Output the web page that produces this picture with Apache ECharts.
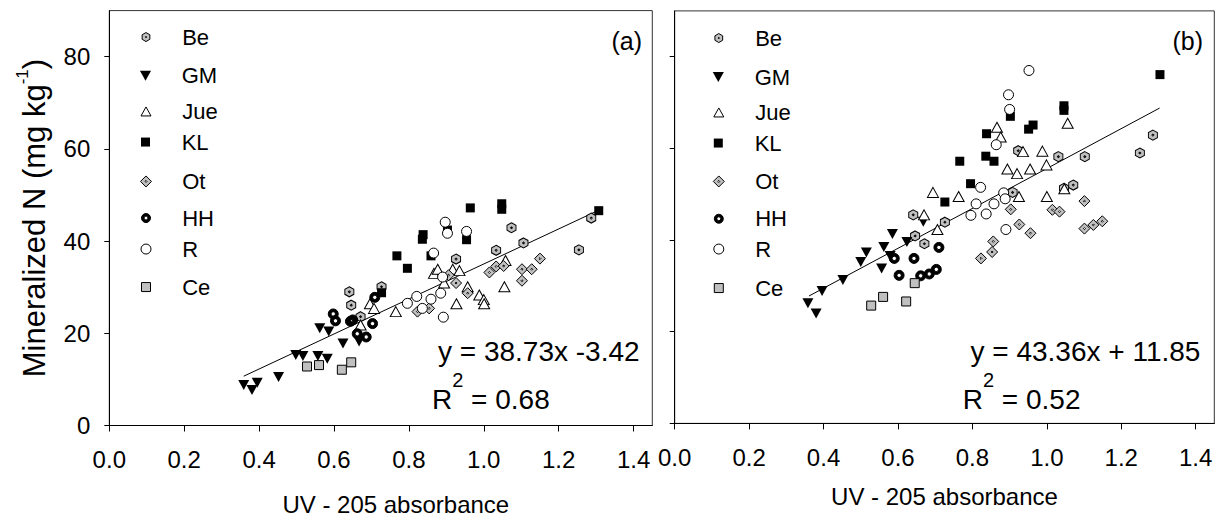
<!DOCTYPE html>
<html><head><meta charset="utf-8">
<script src="https://cdn.jsdelivr.net/npm/echarts@6/dist/echarts.min.js"></script>
<style>html,body{margin:0;padding:0;background:#fff}#c{width:1221px;height:521px}</style>
</head><body><div id="c"></div>
<script>
// ---------- data ----------
const xTicks = [0, 0.2, 0.4, 0.6, 0.8, 1.0, 1.2, 1.4];
const yTicks = [0, 20, 40, 60, 80];
const groups = ['Be', 'GM', 'Jue', 'KL', 'Ot', 'HH', 'R', 'Ce'];

// panel (a)
const aBe  = [[0.641,29.0],[0.646,26.1],[0.671,23.6],[0.727,30.1],[0.926,36.1],[1.033,38.0],[1.074,42.9],[1.106,39.6],[1.254,38.1],[1.287,45.0]];
const aGM  = [[0.359,8.8],[0.381,7.7],[0.395,9.3],[0.452,10.5],[0.498,15.3],[0.517,15.1],[0.557,15.1],[0.582,14.5],[0.562,21.1],[0.586,20.4],[0.624,17.8],[0.667,18.2]];
const aJue = [[0.671,21.8],[0.696,26.4],[0.707,25.4],[0.765,24.7],[0.867,33.0],[0.877,33.9],[0.894,30.9],[0.917,33.9],[0.935,33.6],[0.927,26.4],[0.957,30.1],[0.988,28.3],[1.000,27.3],[1.001,26.4],[1.055,30.1],[1.058,35.8]];
const aKL  = [[0.727,28.8],[0.768,36.8],[0.796,34.1],[0.838,41.4],[0.836,40.4],[0.859,36.8],[0.903,42.4],[0.954,40.3],[0.964,47.2],[1.048,48.1],[1.048,46.9],[1.307,46.6]];
const aOt  = [[0.823,24.7],[0.854,25.4],[0.906,32.6],[0.926,30.9],[0.957,28.7],[1.015,33.2],[1.033,34.5],[1.053,34.6],[1.102,31.4],[1.102,33.9],[1.128,33.9],[1.150,36.2]];
const aHH  = [[0.598,24.2],[0.604,22.7],[0.644,22.6],[0.650,22.9],[0.662,19.9],[0.686,19.2],[0.703,22.1],[0.709,27.8]];
const aR   = [[0.796,26.5],[0.821,28.0],[0.836,25.4],[0.859,27.4],[0.885,28.7],[0.890,32.2],[0.892,23.5],[0.866,37.4],[0.897,44.1],[0.903,41.7],[0.954,42.1]];
const aCe  = [[0.528,12.8],[0.560,13.1],[0.621,12.1],[0.646,13.7]];
const fitA = [[0.359,10.7],[1.307,46.7]];
const eqA = 'y = 38.73x -3.42';
const r2A = '0.68';

// panel (b)
const bBe  = [[0.641,45.5],[0.646,40.9],[0.671,39.2],[0.726,43.9],[0.908,50.4],[0.923,59.5],[1.031,58.2],[1.046,51.3],[1.071,52.0],[1.102,58.2],[1.250,59.0],[1.285,62.9]];
const bGM  = [[0.358,26.2],[0.380,24.0],[0.396,28.9],[0.452,31.3],[0.500,35.2],[0.515,37.3],[0.556,33.8],[0.562,38.5],[0.579,36.5],[0.585,41.3],[0.624,39.6],[0.668,44.0]];
const bJue = [[0.670,45.5],[0.706,42.3],[0.694,50.4],[0.763,49.5],[0.866,64.6],[0.876,62.5],[0.894,55.5],[0.920,54.5],[0.925,49.5],[0.936,59.3],[0.955,55.5],[0.988,59.4],[0.999,56.4],[1.000,49.5],[1.047,51.2],[1.056,65.5]];
const bKL  = [[0.726,48.3],[0.766,57.2],[0.795,52.3],[0.838,63.2],[0.836,58.3],[0.858,57.2],[0.902,67.0],[0.951,64.2],[0.963,65.1],[1.046,68.3],[1.046,69.3],[1.304,76.1]];
const bOt  = [[0.823,36.0],[0.853,37.4],[0.856,39.7],[0.903,46.7],[0.926,43.4],[0.956,41.5],[1.015,46.6],[1.034,46.2],[1.101,48.5],[1.101,42.5],[1.125,43.3],[1.149,44.1]];
const bHH  = [[0.590,36.0],[0.603,32.3],[0.643,36.0],[0.661,32.2],[0.684,32.6],[0.703,33.6],[0.710,38.4]];
const bR   = [[0.796,45.4],[0.810,47.9],[0.822,51.5],[0.837,45.7],[0.858,47.9],[0.884,50.3],[0.888,49.0],[0.890,42.3],[0.864,60.8],[0.900,68.5],[0.897,71.7],[0.952,77.0]];
const bCe  = [[0.528,25.7],[0.560,27.6],[0.622,26.6],[0.645,30.6]];
const fitB = [[0.361,27.8],[1.303,68.8]];
const eqB = 'y = 43.36x + 11.85';
const r2B = '0.52';

// ---------- styles ----------
const FONT = "'Liberation Sans', Arial, Helvetica, sans-serif";
const CIRCLE = 'M50,0A50,50 0 1,1 50,100A50,50 0 1,1 50,0Z';
const SQUARE = 'M0,0L100,0L100,100L0,100Z';
const DOTHOLE = ' M50,41L41,50L50,59L59,50Z';
// aspect = width/height of the path's bounding box (used for legend icon placement)
const SYM = {
  Be:  {path: 'path://M50,0L93,25L93,75L50,100L7,75L7,25Z' + DOTHOLE, size: [9, 10], fill: '#c0c0c0', bw: 1, lh: 9, aspect: 0.86},
  GM:  {path: 'path://M0,0L100,0L50,90Z', size: [11, 10], fill: '#000', bw: 0, lh: 10, aspect: 1.11},
  Jue: {path: 'path://M50,0L100,90L0,90Z', size: [11, 10], fill: '#fff', bw: 1, lh: 9, aspect: 1.11},
  KL:  {path: 'path://' + SQUARE, size: 9, fill: '#000', bw: 0, lh: 9, aspect: 1},
  Ot:  {path: 'path://M50,0L100,50L50,100L0,50Z' + DOTHOLE, size: 11, fill: '#c0c0c0', bw: 1, lh: 11, aspect: 1},
  HH:  {path: 'path://' + CIRCLE + ' M50,28A22,22 0 1,0 50,72A22,22 0 1,0 50,28Z', size: 10, fill: '#000', bw: 1, lh: 9, aspect: 1},
  R:   {path: 'path://' + CIRCLE, size: 10, fill: '#fff', bw: 1, lh: 10, aspect: 1},
  Ce:  {path: 'path://' + SQUARE, size: 9, fill: '#c0c0c0', bw: 1, lh: 9, aspect: 1}
};
const panels = [
  {data: {Be: aBe, GM: aGM, Jue: aJue, KL: aKL, Ot: aOt, HH: aHH, R: aR, Ce: aCe}, fit: fitA, eq: eqA, r2: r2A},
  {data: {Be: bBe, GM: bGM, Jue: bJue, KL: bKL, Ot: bOt, HH: bHH, R: bR, Ce: bCe}, fit: fitB, eq: eqB, r2: r2B}
];

// layout
const grids = [
  {left: 109.3, top: 10.6, width: 543, height: 414.9},
  {left: 674.7, top: 10.9, width: 539.6, height: 412.5}
];
const legendRows = [
  [37.3, 76, 111.7, 142.3, 181.7, 218.3, 249.3, 287.3],
  [38.3, 77.3, 112.7, 143.3, 181.7, 219, 249.3, 288.3]
];
const legendX = [{cx: 145.5, tx: 181.7}, {cx: 718.3, tx: 754.7}];
const LEG_TEXT_HALF = 11.25;
const panelTags = ['(a)', '(b)'];

const series = [];
const legends = [];
const xAxes = [], yAxes = [];
panels.forEach((p, i) => {
  series.push({
    type: 'line', xAxisIndex: i, yAxisIndex: i, data: p.fit, symbol: 'none', silent: true,
    lineStyle: {color: '#000', width: 1}, z: 1
  });
  groups.forEach((g) => {
    const s = SYM[g];
    series.push({
      type: 'scatter', name: g, xAxisIndex: i, yAxisIndex: i, data: p.data[g],
      symbol: s.path, symbolSize: s.size,
      itemStyle: {color: s.fill, borderColor: '#000', borderWidth: s.bw, opacity: 1},
      emphasis: {disabled: true}, z: 3
    });
  });
  groups.forEach((g, k) => {
    const s = SYM[g];
    const cx = legendX[i].cx, tx = legendX[i].tx, cy = legendRows[i][k];
    const W = 2 * (tx - 5 - cx);
    const vw = s.lh * s.aspect;
    legends.push({
      left: cx - vw / 2, top: cy - LEG_TEXT_HALF, padding: 0, itemGap: 0,
      itemWidth: W, itemHeight: s.lh, selectedMode: false, symbolKeepAspect: true,
      data: [{name: g, icon: s.path, itemStyle: {color: s.fill, borderColor: '#000', borderWidth: s.bw}}],
      textStyle: {fontSize: 22, fontFamily: FONT, color: '#000'}
    });
  });
  xAxes.push({
    gridIndex: i, type: 'value', min: 0, max: 1.45,
    axisLine: {show: true, onZero: false, lineStyle: {color: '#000', width: 1}},
    axisTick: {show: true, customValues: xTicks, length: 6, lineStyle: {color: '#000', width: 1}},
    axisLabel: {customValues: xTicks, formatter: (v) => v.toFixed(1), fontSize: 24, fontFamily: FONT, color: '#000', margin: 22},
    splitLine: {show: false},
    name: 'UV - 205 absorbance', nameLocation: 'middle', nameGap: i === 0 ? 67 : 61,
    nameMoveOverlap: false,
    nameTextStyle: {fontSize: 24, fontFamily: FONT, color: '#000', padding: i === 0 ? [0, 0, 0, 30] : 0}
  });
  const ya = {
    gridIndex: i, type: 'value', min: 0, max: 90,
    axisLine: {show: true, onZero: false, lineStyle: {color: '#000', width: 1}},
    axisTick: {show: true, customValues: yTicks, length: 5, lineStyle: {color: '#000', width: 1}},
    axisLabel: {show: i === 0, customValues: yTicks, fontSize: 24, fontFamily: FONT, color: '#000', margin: 19},
    splitLine: {show: false}
  };
  if (i === 0) {
    ya.name = '{m|Mineralized N (mg kg}{s|-1}{m|)}';
    ya.nameLocation = 'middle';
    ya.nameGap = 59;
    ya.nameMoveOverlap = false;
    ya.nameTextStyle = {
      color: '#000',
      rich: {
        m: {fontSize: 31, lineHeight: 36, fontFamily: FONT, color: '#000', verticalAlign: 'bottom'},
        s: {fontSize: 17, lineHeight: 17, fontFamily: FONT, color: '#000', verticalAlign: 'bottom', padding: [0, 0, 19, 0]}
      }
    };
  }
  yAxes.push(ya);
});

const richEq = {
  m: {fontSize: 28, lineHeight: 32, fontFamily: FONT, fill: '#000', verticalAlign: 'bottom'},
  s: {fontSize: 20, lineHeight: 20, fontFamily: FONT, fill: '#000', verticalAlign: 'bottom', padding: [0, 0, 23, 0]}
};
const eqPos = [{ex: 438, rx: 432, tagX: 642}, {ex: 970.5, rx: 962.7, tagX: 1203}];
const graphics = [];
panels.forEach((p, i) => {
  graphics.push({type: 'text', x: eqPos[i].tagX, y: 41, silent: true,
    style: {text: panelTags[i], fontSize: 25, fontFamily: FONT, fill: '#000', align: 'right', textAlign: 'right', verticalAlign: 'middle', textVerticalAlign: 'middle'}});
  graphics.push({type: 'text', x: eqPos[i].ex, y: 351, silent: true,
    style: {text: p.eq, fontSize: 28, fontFamily: FONT, fill: '#000', align: 'left', textAlign: 'left', verticalAlign: 'middle', textVerticalAlign: 'middle'}});
  graphics.push({type: 'text', x: eqPos[i].rx, y: 413, silent: true,
    style: {text: '{m|R}{s|2}{m| = ' + p.r2 + '}', align: 'left', textAlign: 'left', verticalAlign: 'bottom', textVerticalAlign: 'bottom', rich: richEq}});
});

const chart = echarts.init(document.getElementById('c'), null, {renderer: 'svg', width: 1221, height: 521});
chart.setOption({
  animation: false,
  backgroundColor: '#fff',
  grid: grids.map(g => Object.assign({show: true, borderColor: '#333', borderWidth: 1, backgroundColor: 'transparent', containLabel: false, outerBoundsMode: 'none'}, g)),
  xAxis: xAxes,
  yAxis: yAxes,
  legend: legends,
  series: series,
  graphic: graphics
});
</script>
</body></html>
